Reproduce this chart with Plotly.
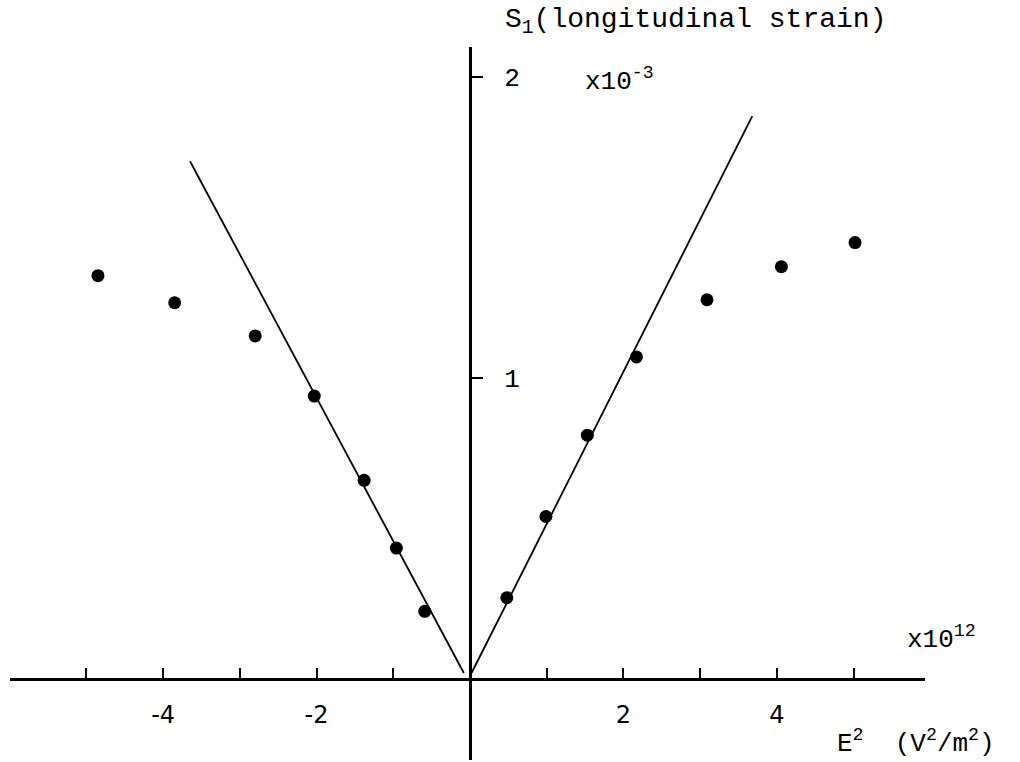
import plotly.graph_objects as go

# S1 (x10^-3) against E^2 (x10^12 V^2/m^2)
e2_neg = [-4.85, -3.85, -2.80, -2.03, -1.38, -0.96, -0.59]
s1_neg = [1.34, 1.25, 1.14, 0.94, 0.66, 0.435, 0.225]
e2_pos = [0.48, 0.99, 1.53, 2.17, 3.09, 4.06, 5.02]
s1_pos = [0.27, 0.54, 0.81, 1.07, 1.26, 1.37, 1.45]

# straight lines drawn through the low field points
fit_neg_x = [-0.08, -3.65]
fit_neg_y = [0.02, 1.72]
fit_pos_x = [0.02, 3.68]
fit_pos_y = [0.02, 1.87]

xticks = [-5, -4, -3, -2, -1, 1, 2, 3, 4, 5]
xticklabels = ['', '-4', '', '-2', '', '', '2', '', '4', '']
yticks = [1, 2]
yticklabels = ['1', '2']

W, H = 1020, 762
mono = 'Liberation Mono'


def px(x, y):
    return x / W, 1 - y / H


fig = go.Figure()

line_style = dict(color='black', width=1.8)
fig.add_trace(go.Scatter(x=fit_neg_x, y=fit_neg_y, mode='lines', line=line_style))
fig.add_trace(go.Scatter(x=fit_pos_x, y=fit_pos_y, mode='lines', line=line_style))

dot = dict(color='black', size=13)
fig.add_trace(go.Scatter(x=e2_neg, y=s1_neg, mode='markers', marker=dot))
fig.add_trace(go.Scatter(x=e2_pos, y=s1_pos, mode='markers', marker=dot))

fig.update_layout(
    width=W, height=H,
    margin=dict(l=0, r=0, t=0, b=0),
    paper_bgcolor='white', plot_bgcolor='white',
    showlegend=False,
    xaxis=dict(
        domain=[10 / W, 925 / W], range=[-5.997, 5.932],
        anchor='free', position=1 - 679 / H,
        showline=True, linewidth=3, linecolor='black',
        showgrid=False, zeroline=False,
        tickvals=xticks, ticktext=xticklabels,
        ticks='inside', ticklen=10, tickwidth=2, tickcolor='black',
        ticklabelstandoff=13,
        tickfont=dict(family='DejaVu Sans', size=24, color='black'),
    ),
    yaxis=dict(
        domain=[2 / H, 715 / H], range=[-0.269, 2.0997],
        anchor='free', position=470 / W, side='right',
        showline=True, linewidth=3, linecolor='black',
        showgrid=False, zeroline=False,
        tickvals=yticks, ticktext=yticklabels,
        ticks='outside', ticklen=11, tickwidth=2, tickcolor='black',
        ticklabelstandoff=16,
        tickfont=dict(family=mono, size=26, color='black'),
    ),
)

texts = [
    ('S<sub>1</sub>(longitudinal strain)', 503, 22, 28),
    ('x10<sup>-3</sup>', 583, 80, 26),
    ('x10<sup>12</sup>', 905, 638, 26),
    ('E<sup>2</sup>  (V<sup>2</sup>/m<sup>2</sup>)', 835, 742, 26),
]
for t, x, y, s in texts:
    ax, ay = px(x, y)
    fig.add_annotation(text=t, x=ax, y=ay, xref='paper', yref='paper',
                       xanchor='left', yanchor='middle', showarrow=False,
                       font=dict(family=mono, size=s, color='black'))

fig.write_html('out.html', config={'displayModeBar': False},
               post_script="document.body.style.margin='0';document.body.style.overflow='hidden';")
